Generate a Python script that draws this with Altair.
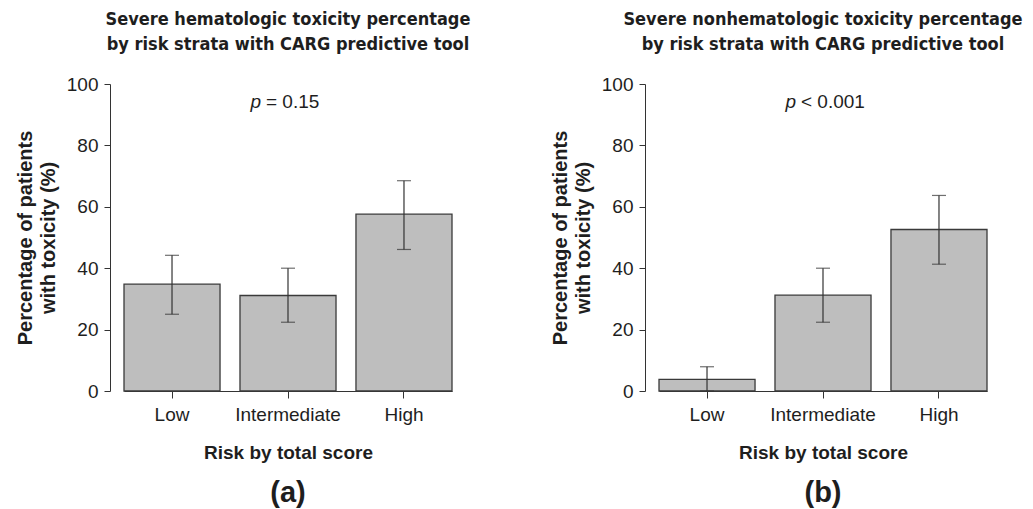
import altair as alt
import pandas as pd

categories = ["Low", "Intermediate", "High"]
heme_pct = [34.8, 31.1, 57.6]
heme_lo = [25.0, 22.4, 46.1]
heme_hi = [44.2, 40.0, 68.5]
nonheme_pct = [3.8, 31.2, 52.6]
nonheme_lo = [0.0, 22.4, 41.3]
nonheme_hi = [7.9, 40.0, 63.7]

titles = [
    ["Severe hematologic toxicity percentage", "by risk strata with CARG predictive tool"],
    ["Severe nonhematologic toxicity percentage", "by risk strata with CARG predictive tool"],
]
p_values = ["= 0.15", "< 0.001"]
panel_labels = ["(a)", "(b)"]
y_title = ["Percentage of patients", "with toxicity (%)"]
x_title = "Risk by total score"

FONT = "Liberation Sans, Arial, Helvetica, sans-serif"
TFONT = "Liberation Sans Narrow, Arial Narrow, DejaVu Sans Condensed, sans-serif"
INK = "#1e1e1e"
W, H = 328, 307


def panel(pct, lo, hi, title, pval, plabel):
    df = pd.DataFrame({"risk": categories, "pct": pct, "lo": lo, "hi": hi})
    xs = alt.Scale(domain=categories, paddingInner=0.172, paddingOuter=0)
    x = alt.X("risk:N", sort=categories, scale=xs,
              axis=alt.Axis(title=x_title, labelAngle=0, labelFontSize=19, labelFont=FONT,
                            labelColor=INK, labelPadding=7, tickSize=7, tickColor="#333",
                            domainColor="#333", titleFont=FONT, titleFontSize=19,
                            titleFontWeight="bold", titleColor=INK, titlePadding=19))
    y = alt.Y("pct:Q", scale=alt.Scale(domain=[0, 100], nice=False),
              axis=alt.Axis(title=y_title, values=list(range(0, 101, 10)),
                            labelExpr="datum.value % 20 === 0 ? datum.label : ''",
                            offset=14, tickSize=6, labelPadding=6, labelFontSize=19,
                            labelFont=FONT, labelColor=INK, tickColor="#333",
                            domainColor="#333", grid=False, titleFont=FONT,
                            titleFontSize=20, titleFontWeight="bold", titleColor=INK,
                            titlePadding=8, titleLineHeight=23))
    base = alt.Chart(df)
    bars = base.mark_bar(fill="#bebebe", stroke="#3a3a3a", strokeWidth=1.3).encode(x=x, y=y)
    xe = alt.X("risk:N", sort=categories)
    err = base.mark_rule(color="#333", strokeWidth=1.2).encode(x=xe, y="lo:Q", y2="hi:Q")
    cap_hi = base.mark_tick(color="#333", size=14, thickness=1.2).encode(x=xe, y="hi:Q")
    cap_lo = base.mark_tick(color="#333", size=14, thickness=1.2).encode(x=xe, y="lo:Q")

    pdf = pd.DataFrame({"risk": ["Intermediate"], "y": [94.0], "t": [pval], "lab": [plabel]})
    pb = alt.Chart(pdf)
    p_it = pb.mark_text(text="p", font=FONT, fontSize=19, fontStyle="italic", align="right",
                        baseline="middle", dx=-27, color=INK).encode(x=xe, y="y:Q")
    p_tx = pb.mark_text(font=FONT, fontSize=19, align="left", baseline="middle", dx=-22,
                        color=INK).encode(x=xe, y="y:Q", text="t:N")
    lab = pb.mark_text(font=FONT, fontSize=29, fontWeight="bold", align="center",
                       baseline="middle", color=INK).encode(x=xe, y=alt.value(H + 102),
                                                            text="lab:N")
    return alt.layer(bars, err, cap_hi, cap_lo, p_it, p_tx, lab).properties(
        width=W, height=H,
        title=alt.Title(text=title, font=TFONT, fontSize=18, fontWeight="bold", color=INK,
                        anchor="middle", offset=21, lineHeight=25),
    )


left = panel(heme_pct, heme_lo, heme_hi, titles[0], p_values[0], panel_labels[0])
right = panel(nonheme_pct, nonheme_lo, nonheme_hi, titles[1], p_values[1], panel_labels[1])

chart = alt.hconcat(left, right, spacing=207, bounds="flush").properties(
    padding={"left": 7, "top": 3, "right": 0, "bottom": 0}
).configure(background="white").configure_view(stroke="transparent", strokeWidth=0)

chart.save("out.html", embed_options={"renderer": "svg", "actions": False})
